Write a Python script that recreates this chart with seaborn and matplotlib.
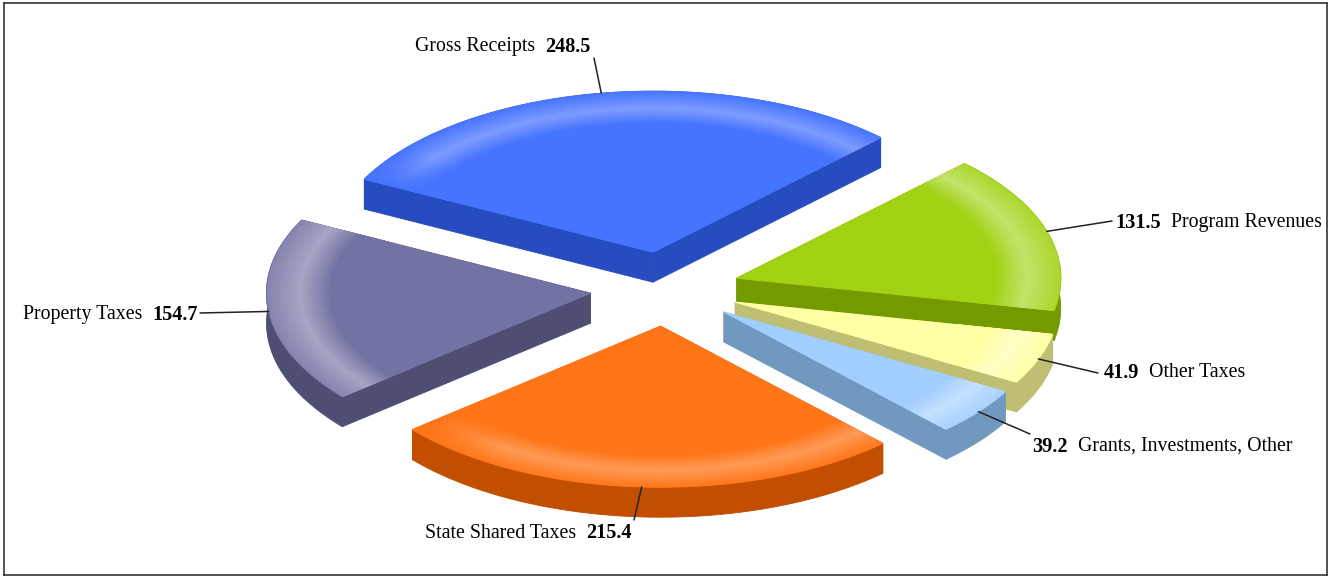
import numpy as np
import seaborn as sns
import matplotlib.pyplot as plt

# --- Data ---
categories = ["Gross Receipts", "Program Revenues", "Other Taxes",
              "Grants, Investments, Other", "State Shared Taxes", "Property Taxes"]
values = [248.5, 131.5, 41.9, 39.2, 215.4, 154.7]

top_colors = ["#4674FF", "#A2D213", "#FFFFA3", "#A2CFFF", "#FF7518", "#7373A3"]
side_colors = ["#264CBF", "#739B00", "#BFBF73", "#7199C0", "#C24E00", "#4E4E74"]
glow_colors = ["#7F9DFF", "#C4E46C", "#FFFFC8", "#C6E2FF", "#FF9C58", "#A6A6C6"]
rim_glow = [0.05, 0.3, 0.2, 0.2, 0.1, 0.35]

# --- Layout (pixels) ---
W, H = 1331, 577
CX, CY = 665, 289
RX, RY = 324, 161
EXPLODE = 75
DEPTH = 30
START_ANGLE = 153

# leader line ends, then x of the gap between name and number, text centre y
leader_ends = [(594, 58), (1112, 221), (1098, 373), (1030, 434), (634, 520), (200, 313)]
label_pos = [(540, 46.5), (1166, 222.5), (1144, 372.5), (1073, 446.5), (581, 533.5), (147, 314.5)]
number_first = [False, True, True, True, False, False]
# slices painted in this order, yellow goes over the green wall
draw_order = [0, 5, 1, 2, 3, 4]
# degrees over which the ring dies out at the slice's first / last end
fade_first = [14, 0, 0, 0, 0, 0]
fade_last = [0, 0, 0, 0, 18, 0]

sns.set_style("white")
plt.rcParams["font.family"] = ["Liberation Serif", "DejaVu Serif"]

fig = plt.figure(figsize=(W / 100, H / 100), dpi=100)
ax = fig.add_axes([4 / W, 1 - 575 / H, (1327 - 4) / W, (575 - 3) / H])

sweep = np.array(values) / sum(values) * 360
ends = START_ANGLE - np.cumsum(sweep)
starts = ends + sweep
mids = (starts + ends) / 2


def apex_of(mid):
    rad = np.radians(mid)
    return CX + EXPLODE * np.cos(rad), CY - EXPLODE * RY / RX * np.sin(rad)


def rim_point(apex, angle, r=1.0):
    rad = np.radians(angle)
    return apex[0] + r * RX * np.cos(rad), apex[1] - r * RY * np.sin(rad)


def glow(r, angle, i):
    # soft ring close to the rim
    ring = np.interp(r, [0.80, 0.895, 1.0], [0.0, 1.0, rim_glow[i]])
    if fade_first[i]:
        ring = ring * np.clip((starts[i] - angle) / fade_first[i], 0, 1)
    if fade_last[i]:
        ring = ring * np.clip((angle - ends[i]) / fade_last[i], 0, 1)
    return ring


for i in draw_order:
    apex = apex_of(mids[i])
    arc = np.linspace(starts[i], ends[i], 120)
    xs, ys = rim_point(apex, arc)
    px = np.r_[apex[0], xs]
    py = np.r_[apex[1], ys]

    # walls, in one piece so no seams show
    ax.fill(np.r_[xs, xs[::-1]], np.r_[ys, ys[::-1] + DEPTH], color=side_colors[i], lw=0.6)
    for k in [0, -1]:
        ax.fill([apex[0], xs[k], xs[k], apex[0]],
                [apex[1], ys[k], ys[k] + DEPTH, apex[1] + DEPTH],
                color=side_colors[i], lw=0.6)

    # top face
    ax.fill(px, py, color=top_colors[i], lw=0.8)
    r_grid, a_grid = np.meshgrid(np.linspace(0.7, 0.997, 60), arc)
    gx, gy = rim_point(apex, a_grid, r_grid)
    cmap = sns.blend_palette([top_colors[i], glow_colors[i]], as_cmap=True)
    ax.pcolormesh(gx, gy, glow(r_grid, a_grid, i), cmap=cmap, vmin=0, vmax=1, shading="gouraud")

    # leader line
    sx, sy = rim_point(apex, mids[i])
    ex, ey = leader_ends[i]
    sns.lineplot(x=[sx, ex], y=[sy, ey], ax=ax, color="#222222", lw=1.1,
                 sort=False, estimator=None, legend=False, zorder=5)

for i in range(len(values)):
    x, y = label_pos[i]
    number = f"{values[i]:.1f}"
    if number_first[i]:
        ax.text(x - 5, y, number, ha="right", va="center", fontsize=14.6, fontweight="bold", color="black")
        ax.text(x + 5, y, categories[i], ha="left", va="center", fontsize=14.3, color="black")
    else:
        ax.text(x - 5, y, categories[i], ha="right", va="center", fontsize=14.3, color="black")
        ax.text(x + 5, y, number, ha="left", va="center", fontsize=14.6, fontweight="bold", color="black")

ax.set_xlim(4, 1327)
ax.set_ylim(575, 3)
ax.set_xticks([])
ax.set_yticks([])
ax.set_xlabel("")
ax.set_ylabel("")
for spine in ax.spines.values():
    spine.set_color("#333333")
    spine.set_linewidth(1.2)

fig.savefig("out.png", dpi=100)
